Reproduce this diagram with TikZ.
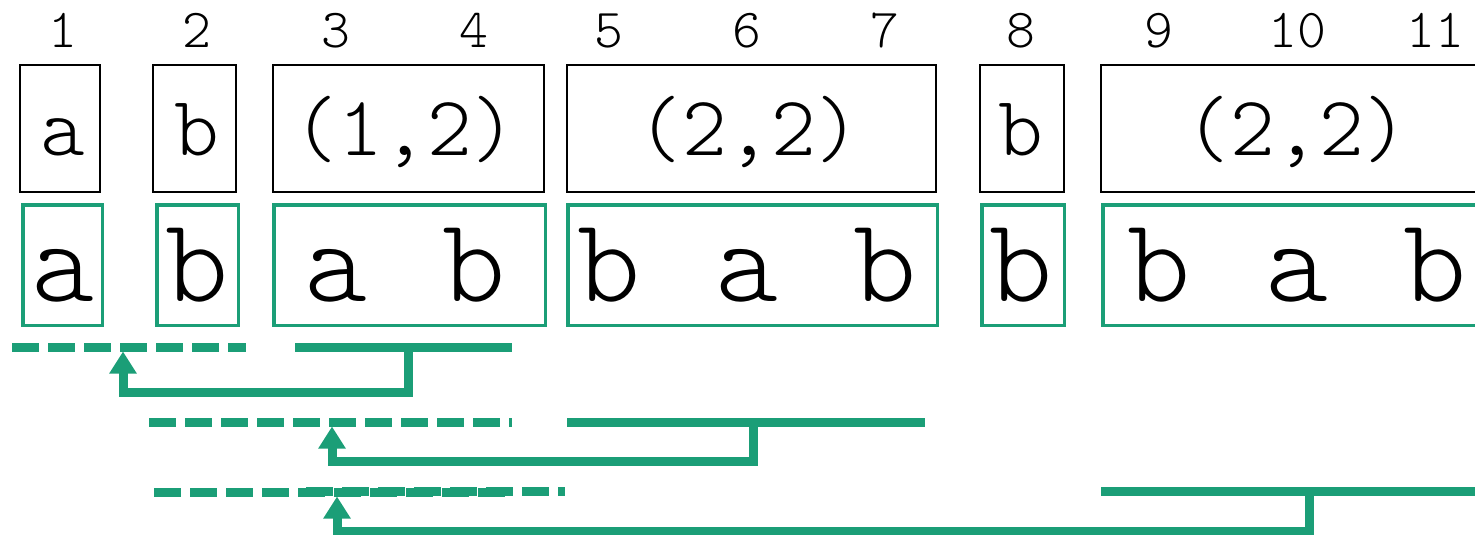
\documentclass[tikz,border=0pt]{standalone}
\usepackage{fontspec}
\newfontfamily\cmono{lmmonolt10-regular.otf}
\usetikzlibrary{arrows.meta}
\definecolor{teal}{RGB}{27,158,119}
\tikzset{
  idx/.style={anchor=base, inner sep=0pt, font=\cmono\fontsize{55}{55}\selectfont},
  btxt/.style={anchor=base, inner sep=0pt, font=\cmono\fontsize{85}{85}\selectfont},
  gtxt/.style={anchor=base, inner sep=0pt, font=\cmono\fontsize{120}{120}\selectfont},
  bbox/.style={draw=black, line width=2.5pt, inner sep=0pt, outer sep=0pt, minimum height=127pt},
  gbox/.style={draw=teal, line width=3.5pt, inner sep=0pt, outer sep=0pt, minimum height=120.5pt},
  src/.style={draw=teal, line width=9pt, dash pattern=on 27pt off 9pt},
  dst/.style={draw=teal, line width=9pt},
  conn/.style={draw=teal, line width=9pt, line join=miter, -{Triangle[width=26pt,length=22pt]}}
}
\begin{document}
\begin{tikzpicture}[x=1pt,y=-1pt]
\useasboundingbox (0,0) rectangle (1475,535);
\clip (0,0) rectangle (1475,535);
% index numbers
\foreach \i/\x in {1/63,2/197,3/336,4/474,5/609,6/747,7/885,8/1021,9/1159,10/1297,11/1435}
  \node[idx] (n\i) at (\x,48) {\i};
% black boxes
\node[bbox, minimum width=80pt]  (B1) at (60,128.5) {};
\node[bbox, minimum width=83pt]  (B2) at (194.5,128.5) {};
\node[bbox, minimum width=271pt] (B3) at (408.5,128.5) {};
\node[bbox, minimum width=369pt] (B4) at (751.5,128.5) {};
\node[bbox, minimum width=84pt]  (B5) at (1022,128.5) {};
\node[bbox, minimum width=388pt] (B6) at (1295,128.5) {};
\node[btxt] (T1) at (63,155) {a};
\node[btxt] (T2) at (197,155) {b};
\node[btxt] (T3) at (405,155) {(1,2)};
\node[btxt] (T4) at (749,155) {(2,2)};
\node[btxt] (T5) at (1021,155) {b};
\node[btxt] (T6) at (1297,155) {(2,2)};
% green boxes
\node[gbox, minimum width=79.5pt]  (G1) at (62.5,265) {};
\node[gbox, minimum width=81.5pt]  (G2) at (197.5,265) {};
\node[gbox, minimum width=271.5pt] (G3) at (409.5,265) {};
\node[gbox, minimum width=369.5pt] (G4) at (752.5,265) {};
\node[gbox, minimum width=82.5pt]  (G5) at (1023,265) {};
\node[gbox, minimum width=385.5pt] (G6) at (1295.5,265) {};
\foreach \i/\x/\c in {1/63/a,2/197/b,3/336/a,4/474/b,5/609/b,6/747/a,7/885/b,8/1021/b,9/1159/b,10/1297/a,11/1435/b}
  \node[gtxt] (g\i) at (\x,301) {\c};
% copy 1
\coordinate (s1a) at (12,347);  \coordinate (s1b) at (246,347);
\coordinate (d1a) at (295,347); \coordinate (d1b) at (512,347);
\coordinate (d1m) at (408,347); \coordinate (t1) at (123,351.5);
\draw[src] (s1a) -- (s1b);
\draw[dst] (d1a) -- (d1b);
\draw[conn] (d1m) -- ++(0,45) -| (t1);
% copy 2
\coordinate (s2a) at (149,422);  \coordinate (s2b) at (512,422);
\coordinate (d2a) at (567,422);  \coordinate (d2b) at (925,422);
\coordinate (d2m) at (753,422);  \coordinate (t2) at (332,426.5);
\draw[src] (s2a) -- (s2b);
\draw[dst] (d2a) -- (d2b);
\draw[conn] (d2m) -- ++(0,39) -| (t2);
% copy 3
\coordinate (s3a) at (154,492);  \coordinate (s3b) at (512,492);
\coordinate (s3c) at (306,491);  \coordinate (s3d) at (565,491);
\coordinate (d3a) at (1101,491); \coordinate (d3b) at (1480,491);
\coordinate (d3m) at (1309,491); \coordinate (t3) at (337,496.5);
\draw[src] (s3a) -- (s3b);
\draw[src] (s3c) -- (s3d);
\draw[dst] (d3a) -- (d3b);
\draw[conn] (d3m) -- ++(0,40) -| (t3);
\end{tikzpicture}
\end{document}
